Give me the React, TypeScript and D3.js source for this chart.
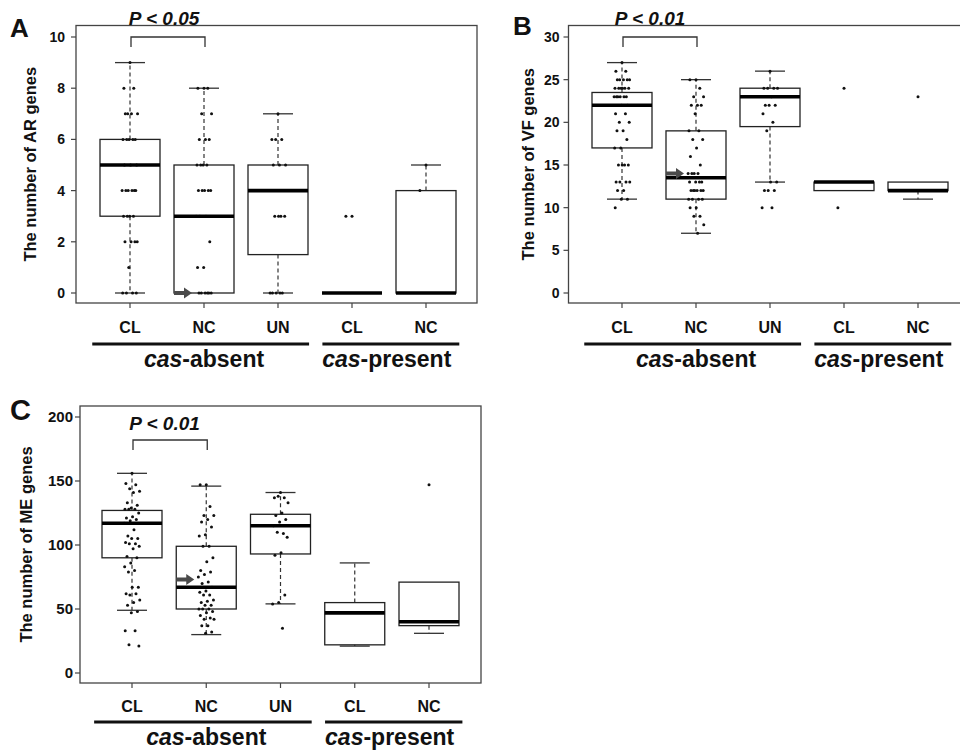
import React from 'react';
import * as d3 from 'd3';

// ---------- data ----------
const categories = ['CL', 'NC', 'UN', 'CL', 'NC'];
const groups = ['cas-absent', 'cas-present'];

const arTicks = [0, 2, 4, 6, 8, 10];
const vfTicks = [0, 5, 10, 15, 20, 25, 30];
const meTicks = [0, 50, 100, 150, 200];

// [lower whisker, q1, median, q3, upper whisker]
const arStats = [[0, 3, 5, 6, 9], [0, 0, 3, 5, 8], [0, 1.5, 4, 5, 7], [0, 0, 0, 0, 0], [0, 0, 0, 4, 5]];
const vfStats = [[11, 17, 22, 23.5, 27], [7, 11, 13.5, 19, 25], [13, 19.5, 23, 24, 26], [12, 12, 13, 13, 13], [11, 12, 12, 13, 13]];
const meStats = [[49, 90, 117, 127, 156], [30, 50, 67, 99, 146], [54, 93, 115, 124, 141], [21, 22, 47, 55, 86], [31, 37, 40, 71, 71]];

const arPoints = [
  [9, 8, 8, 7, 7, 7, 7, 6, 6, 6, 6, 6, 5, 5, 5, 4, 4, 4, 4, 4, 4, 3, 3, 3, 3, 2, 2, 2, 2, 1, 0, 0, 0, 0],
  [8, 8, 8, 7, 7, 6, 6, 6, 5, 5, 5, 5, 4, 4, 4, 4, 4, 3, 3, 3, 2, 1, 1, 0, 0, 0, 0, 0, 0],
  [7, 6, 6, 6, 5, 5, 5, 4, 4, 4, 3, 3, 3, 3, 0, 0, 0, 0, 0],
  [3, 3],
  [5, 4],
];
const vfPoints = [
  [27, 26, 26, 25, 25, 25, 25, 25, 24, 24, 24, 24, 24, 24, 23, 23, 23, 23, 23, 23, 22, 22, 21, 21, 20, 20, 19, 19, 18, 17, 17, 15, 15, 15, 15, 13, 13, 13, 13, 12, 12, 11, 11, 10],
  [25, 25, 24, 23, 23, 22, 22, 22, 21, 19, 19, 18, 18, 17, 16, 15, 14, 14, 14, 14, 13, 13, 13, 13, 12, 12, 12, 12, 12, 12, 11, 11, 11, 11, 10, 10, 9, 9, 8, 7],
  [26, 24, 24, 24, 24, 23, 22, 22, 22, 21, 20, 19, 13, 13, 12, 12, 12, 10, 10],
  [24, 10],
  [23],
];
const mePoints = [
  [156, 148, 147, 144, 142, 141, 133, 131, 129, 128, 128, 128, 125, 122, 121, 120, 119, 117, 112, 107, 105, 105, 102, 101, 101, 99, 97, 91, 90, 86, 83, 80, 79, 67, 67, 62, 62, 61, 57, 55, 53, 48, 47, 33, 33, 22, 21],
  [147, 147, 130, 123, 123, 120, 118, 114, 108, 107, 99, 99, 90, 87, 80, 79, 77, 75, 71, 70, 67, 64, 63, 61, 61, 57, 56, 55, 53, 53, 50, 50, 50, 48, 47, 45, 43, 42, 42, 37, 37, 32, 31],
  [141, 137, 137, 138, 133, 125, 123, 120, 118, 115, 109, 110, 106, 94, 92, 61, 55, 54, 35],
  [],
  [147],
];

const arrowValues = [0, 14, 73]; // value marked by arrow in NC (cas-absent)
const pLabels = ['P < 0.05', 'P < 0.01', 'P < 0.01'];
const yTitles = ['The number of AR genes', 'The number of VF genes', 'The number of ME genes'];
const panelLetters = ['A', 'B', 'C'];

// ---------- layout ----------
const FONT = '"Liberation Sans", Arial, Helvetica, sans-serif';

const layouts = [
  { x0: 130, x1: 426, yTop: 37, yBot: 293, frame: [76, 25.5, 477, 303], gap: 11, titleX: 30,
    letterX: 10, letterY: 37, letterSize: 26, pX: 164, pY: 25, brTop: 37, catY: 333, lineY: 344, groupY: 367, tickFont: 14 },
  { x0: 622, x1: 918, yTop: 37, yBot: 293, frame: [568.5, 25.5, 970, 303], gap: 9, titleX: 528,
    letterX: 513, letterY: 35, letterSize: 26, pX: 650, pY: 25, brTop: 37, catY: 333, lineY: 344, groupY: 367, tickFont: 14 },
  { x0: 132, x1: 429, yTop: 417, yBot: 673, frame: [80, 406, 481, 683], gap: 7, titleX: 26,
    letterX: 10, letterY: 420, letterSize: 29, pX: 164.5, pY: 430, brTop: 440, catY: 711.5, lineY: 722, groupY: 745, tickFont: 15 },
];

const panelsData = [
  { ticks: arTicks, stats: arStats, points: arPoints },
  { ticks: vfTicks, stats: vfStats, points: vfPoints },
  { ticks: meTicks, stats: meStats, points: mePoints },
];

const jitter = (i: number) => ((((i * 0.6180339887) + 0.5) % 1) - 0.5) * 16;

function Panel({ idx }: { idx: number }) {
  const L = layouts[idx];
  const D = panelsData[idx];
  const ticks = D.ticks;
  const x = d3.scaleLinear().domain([1, 5]).range([L.x0, L.x1]);
  const y = d3.scaleLinear().domain([ticks[0], ticks[ticks.length - 1]]).range([L.yBot, L.yTop]);
  const [fx0, fy0, fx1, fy1] = L.frame;
  const half = 30;
  const cap = 15;

  const arrowV = arrowValues[idx];
  const tipX = x(2) - 12;
  const tipY = y(arrowV);
  const arrowPath = `M${tipX - 18},${tipY - 2} L${tipX - 8},${tipY - 2} L${tipX - 8},${tipY - 5.5} L${tipX},${tipY} L${tipX - 8},${tipY + 5.5} L${tipX - 8},${tipY + 2} L${tipX - 18},${tipY + 2} Z`;

  const bx1 = x(1) + 1;
  const bx2 = x(2) + 1;

  return (
    <g fontFamily={FONT}>
      {/* panel letter */}
      <text x={L.letterX} y={L.letterY} fontSize={L.letterSize} fontWeight="bold" fill="#111">{panelLetters[idx]}</text>
      {/* frame */}
      <rect x={fx0} y={fy0} width={fx1 - fx0} height={fy1 - fy0} fill="none" stroke="#444" strokeWidth={1.3} />
      {/* y ticks */}
      {ticks.map((t) => (
        <g key={'yt' + t}>
          <line x1={fx0 - 5} x2={fx0} y1={y(t)} y2={y(t)} stroke="#444" strokeWidth={1.2} />
          <text x={fx0 - L.gap} y={y(t)} dy="0.36em" textAnchor="end" fontSize={L.tickFont} fontWeight="bold" fill="#111">{t}</text>
        </g>
      ))}
      {/* y title */}
      <text transform={`translate(${L.titleX},${(fy0 + fy1) / 2}) rotate(-90)`} textAnchor="middle" dy="0.36em"
        fontSize={16.5} fontWeight="bold" fill="#111">{yTitles[idx]}</text>
      {/* x ticks & labels */}
      {categories.map((c, i) => (
        <g key={'xt' + i}>
          <line x1={x(i + 1)} x2={x(i + 1)} y1={fy1} y2={fy1 + 5} stroke="#444" strokeWidth={1.2} />
          <text x={x(i + 1)} y={L.catY} textAnchor="middle" fontSize={16} fontWeight="bold" fill="#111">{c}</text>
        </g>
      ))}
      {/* group lines */}
      <line x1={x(0.49)} x2={x(3.42)} y1={L.lineY} y2={L.lineY} stroke="#111" strokeWidth={3.2} />
      <line x1={x(3.6)} x2={x(5.45)} y1={L.lineY} y2={L.lineY} stroke="#111" strokeWidth={3.2} />
      <text x={x(2)} y={L.groupY} textAnchor="middle" fontSize={23} fontWeight="bold" fill="#111">
        <tspan fontStyle="italic">cas</tspan>-{groups[0].split('-')[1]}
      </text>
      <text x={x(4.47)} y={L.groupY} textAnchor="middle" fontSize={23} fontWeight="bold" fill="#111">
        <tspan fontStyle="italic">cas</tspan>-{groups[1].split('-')[1]}
      </text>
      {/* boxes */}
      {D.stats.map((s, i) => {
        const cx = x(i + 1);
        const [lo, q1, med, q3, hi] = s;
        return (
          <g key={'box' + i}>
            {hi > q3 && (
              <>
                <line x1={cx} x2={cx} y1={y(q3)} y2={y(hi)} stroke="#333" strokeWidth={1.2} strokeDasharray="4,3" />
                <line x1={cx - cap} x2={cx + cap} y1={y(hi)} y2={y(hi)} stroke="#333" strokeWidth={1.3} />
              </>
            )}
            {lo < q1 && (
              <>
                <line x1={cx} x2={cx} y1={y(q1)} y2={y(lo)} stroke="#333" strokeWidth={1.2} strokeDasharray="4,3" />
                <line x1={cx - cap} x2={cx + cap} y1={y(lo)} y2={y(lo)} stroke="#333" strokeWidth={1.3} />
              </>
            )}
            <rect x={cx - half} y={y(q3)} width={half * 2} height={Math.max(0, y(q1) - y(q3))} fill="none" stroke="#222" strokeWidth={1.3} />
          </g>
        );
      })}
      {/* points */}
      {D.points.map((pts, i) => (
        <g key={'pts' + i}>
          {pts.map((v, j) => (
            <circle key={j} cx={x(i + 1) + jitter(j)} cy={y(v)} r={1.5} fill="#111" />
          ))}
        </g>
      ))}
      {/* medians */}
      {D.stats.map((s, i) => (
        <line key={'med' + i} x1={x(i + 1) - half} x2={x(i + 1) + half} y1={y(s[2])} y2={y(s[2])} stroke="#000" strokeWidth={3.6} />
      ))}
      {/* arrow */}
      <path d={arrowPath} fill="#4a4a4a" />
      {/* significance bracket */}
      <path d={`M${bx1},${L.brTop + 10} V${L.brTop} H${bx2} V${L.brTop + 10}`} fill="none" stroke="#333" strokeWidth={1.3} />
      <text x={L.pX} y={L.pY} textAnchor="middle" fontSize={19} fontWeight="bold" fontStyle="italic" fill="#111">{pLabels[idx]}</text>
    </g>
  );
}

export default function App() {
  return (
    <svg width={960} height={750} viewBox="0 0 960 750" style={{ position: 'absolute', left: 0, top: 0, background: '#fff' }}>
      <rect x={0} y={0} width={960} height={750} fill="#fff" />
      {[0, 1, 2].map((i) => <Panel key={i} idx={i} />)}
    </svg>
  );
}
